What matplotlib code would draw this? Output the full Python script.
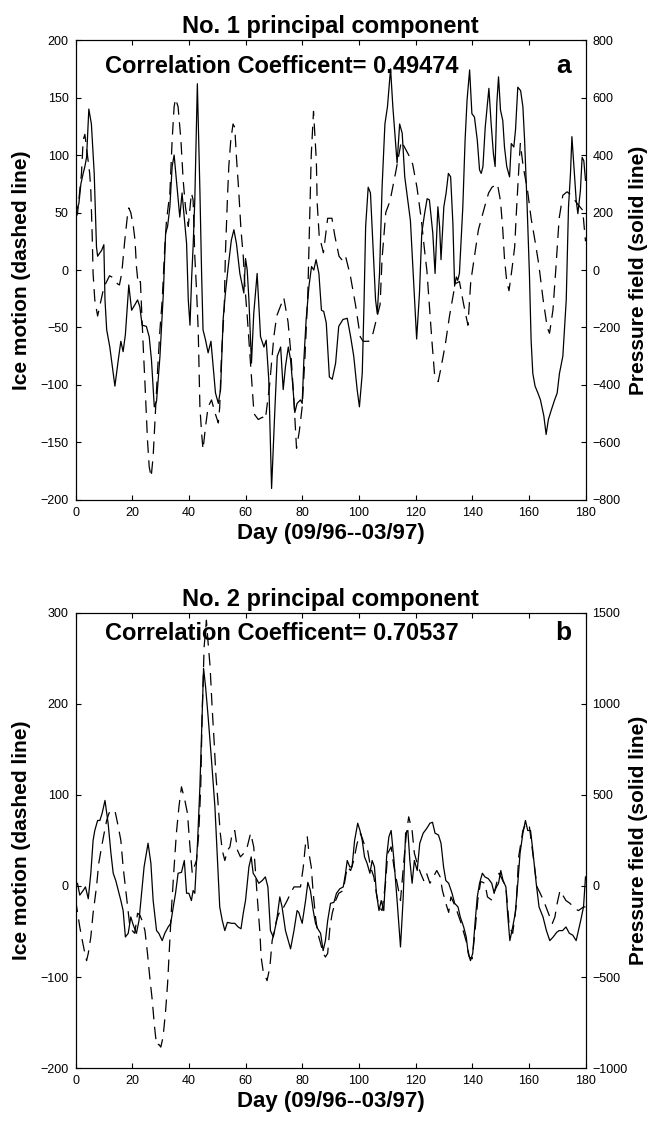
"""Ice motion vs pressure field principal components (two stacked panels)."""

import matplotlib

matplotlib.use("Agg")
import matplotlib.pyplot as plt
import numpy as np

plt.rcParams.update(
    {
        "font.family": ["Liberation Sans", "DejaVu Sans"],
        "font.size": 9,
        "axes.linewidth": 0.8,
        "xtick.direction": "in",
        "ytick.direction": "in",
        "xtick.major.size": 3.5,
        "ytick.major.size": 3.5,
        "xtick.major.width": 0.8,
        "ytick.major.width": 0.8,
    }
)

# ------------------------------------------------------------------
# Panel a: No. 1 principal component
# ------------------------------------------------------------------
pc1_ice_day = [0, 0.7, 2.1, 2.7, 3.3, 4.2, 5, 5.4, 5.9, 6.2, 6.8, 7.8, 10, 12, 13.5,
               14.8, 15.5, 16.3, 17.4, 18.4, 18.8, 19.5, 20.4, 21, 21.5, 22.1, 22.9,
               23.9, 24.5, 25.4, 26, 26.7, 27.4, 28, 28.9, 29.8, 30.6, 31.5, 32.1,
               33.3, 34.1, 34.8, 35.3, 36.2, 37.2, 38, 38.8, 39.8, 40.9, 41.5, 42.1,
               42.7, 43.3, 43.9, 44.5, 45, 45.9, 46.8, 48, 49.2, 50.4, 50.9, 51.5,
               52.5, 52.9, 53.6, 54.1, 54.8, 55.6, 56.2, 56.8, 57.6, 58.4, 59.2,
               59.8, 60.6, 62, 63, 64.5, 66, 67, 68.5, 70, 71, 73.5, 75, 76, 77, 78,
               79, 80, 81, 82, 82.6, 83.2, 84, 85, 85.3, 86, 87.5, 89, 90.5, 91.5,
               93, 94.3, 95.3, 97, 98.8, 100.5, 101.5, 103.5, 105, 107.5, 108.2,
               109.5, 111, 113, 115, 117.6, 119, 120.5, 122, 123.5, 124, 125, 125.8,
               126.7, 128, 129, 130.5, 132, 134, 135.5, 137, 138.5, 139.5, 141,
               142.2, 144.4, 145.8, 147, 148.9, 150, 150.8, 151.4, 152.2, 153, 154,
               155, 155.6, 156.5, 157, 158, 159.5, 160.8, 162.2, 163.5, 165, 166.5,
               167.3, 168.5, 169.5, 170.7, 172, 173.5, 175, 177, 179, 180]
pc1_ice = [45, 49, 84, 113, 118, 100, 84, 69, 29, -3, -26, -40, -15, -5, -7,
           -12, -13, -3, 26, 49, 54, 50, 38, 26, 3, -12, -10,
           -67, -98, -148, -171, -180, -162, -133, -90, -52, -26, 20, 43,
           67, 113, 142, 149, 142, 113, 78, 55, 38, 67, 61, 12,
           -17, -52, -119, -142, -156, -136, -119, -113, -124, -133, -119, -75,
           -32, 14, 61, 90, 113, 127, 124, 98, 69, 35, 12,
           -15, -40, -90, -125, -130, -128, -130, -100, -58, -40, -24, -45, -72, -110, -155,
           -140, -119, -75, -20, 40, 100, 138, 95, 58, 30, 15, 45, 45, 30,
           12, 8, 12, -5, -30, -58, -62, -62, -55, -30, 10,
           50, 60, 85, 112, 100, 92, 72, 45, 10, 0, -35, -62,
           -90, -97, -85, -65, -40, -12, -10, -30, -48, -10, 15,
           35, 55, 67, 72, 75, 60, 35, 10, -10, -18, 0,
           20, 50, 90, 110, 90, 70, 45, 25, 5, -25, -50,
           -55, -35, 0, 45, 65, 68, 65, 58, 52, 25]

pc1_press_day = [0, 1.2, 1.9, 2.7, 3.3, 3.9, 4.7, 5.6, 6.6, 7.4, 7.8, 8.6, 9.2, 10, 10.4,
                 11, 12.1, 13.9, 15.1, 16, 16.8, 17.6, 18.8, 19.8, 21, 21.9, 22.7, 23.5,
                 25, 26, 26.8, 27.8, 28.6, 29.8, 31, 31.8, 32.5, 33.3, 34.1, 34.8, 35.6,
                 36.8, 37.6, 38.6, 39.2, 39.8, 40.4, 41, 41.5, 42.1, 43, 43.9, 44.5, 45,
                 45.9, 46.8, 47.8, 48.6, 49.4, 50.4, 51.2, 52.1, 52.9, 53.9, 55, 55.9,
                 56.8, 58, 59.4, 60, 60.6, 61.2, 62.1, 62.9, 64.1, 65.3, 66.5, 67.3,
                 68.2, 69.2, 70.4, 71.2, 72.4, 73.3, 74.1, 75.1, 75.9, 76.7, 77.4, 78.2,
                 79.4, 80, 80.6, 81.4, 82.4, 83.3, 84.1, 84.9, 85.9, 86.8, 87.6, 88.5,
                 89.6, 90.6, 91.8, 92.9, 94.4, 95.9, 97.1, 98.2, 99.4, 100.2, 101.2,
                 101.8, 102.4, 103.3, 104.1, 104.9, 105.9, 106.5, 107.3, 108.2, 109.2,
                 110.1, 111.2, 112, 112.9, 113.5, 114.4, 115.3, 116.2, 117.4, 118.2,
                 119.2, 120.4, 121.4, 122.2, 123.2, 124.1, 124.9, 126.1, 126.9, 127.9,
                 128.5, 129, 130, 130.8, 131.6, 132.4, 133.2, 133.8, 134.4, 134.9, 135.5,
                 136.7, 137.5, 138.2, 139.1, 139.9, 140.8, 141.8, 142.6, 143.2, 143.8,
                 144.6, 145.3, 145.9, 146.7, 147.5, 148.1, 148.7, 149.3, 150, 150.8,
                 151.4, 152.2, 153.2, 153.8, 154.7, 155.3, 156.1, 157.1, 157.9, 158.5,
                 159.4, 160.2, 160.8, 161.4, 162.2, 163.2, 164.1, 165.3, 166.1, 166.9,
                 167.9, 169.1, 170, 170.8, 172, 173.2, 174, 174.7, 175.2, 175.9, 176.7,
                 177.3, 178.2, 178.8, 179.4, 180]
pc1_press = [196, 232, 300, 336, 360, 392, 560, 508, 336, 80, 48, 60, 68, 88, -104,
             -208, -268, -404, -312, -248, -284, -224, -52, -140, -120, -104, -128, -192,
             -196, -232, -312, -476, -456, -300, -80, 128, 152, 220, 360, 400, 312,
             184, 268, 160, 92, -104, -192, -24, 80, 244, 648, 276, -12, -208,
             -244, -288, -248, -336, -428, -464, -416, -172, -80, 12, 104, 140,
             92, -12, -80, 40, 0, -104, -324, -152, -12, -232, -268, -244,
             -380, -760, -476, -300, -268, -416, -336, -268, -312, -404, -496, -464,
             -452, -464, -312, -172, -56, 12, 0, 36, -12, -140, -144, -184,
             -372, -380, -324, -196, -172, -168, -232, -300, -416, -476, -360,
             -128, 152, 288, 268, 104, -104, -152, -12, 288, 508,
             568, 700, 568, 452, 372, 508, 476, 324, 232, 172,
             -12, -240, -80, 128, 196, 248, 244, 128, -12, 220,
             152, 36, 220, 268, 336, 324, 160, -56, -24, -36, -12,
             220, 452, 592, 696, 544, 532, 452, 348, 336, 360,
             496, 568, 632, 508, 404, 360, 580, 672, 556, 520,
             428, 360, 324, 440, 428, 488, 636, 624, 568, 452,
             220, -12, -244, -360, -404, -428, -452, -508, -572, -520,
             -488, -452, -428, -360, -300, -104, 220, 336, 464, 360, 244,
             196, 276, 392, 380, 312]

# ------------------------------------------------------------------
# Panel b: No. 2 principal component
# ------------------------------------------------------------------
pc2_ice_day = [0, 0.5, 1.5, 2.4, 3.3, 3.9, 4.5, 5.4, 6.2, 7.4, 8.2, 9.2, 10.1, 11, 11.8,
               12.9, 13.9, 15.1, 16, 16.8, 17.6, 18.4, 19.2, 20, 20.9, 21.9, 22.7, 23.5,
               24.5, 25.4, 26.2, 27.1, 27.8, 28.6, 29.4, 30.1, 30.9, 31.8, 32.5, 33.3,
               33.9, 34.8, 35.6, 36.5, 37.4, 38.6, 39.5, 40.4, 41.2, 41.9, 42.7, 43.5,
               44.2, 44.7, 45.4, 46.2, 46.8, 47.5, 48.2, 48.9, 49.5, 50.4, 51.1, 51.8,
               52.7, 53.6, 54.5, 55.3, 56.2, 57.2, 58.2, 59.4, 60.6, 61.8, 62.9, 63.9,
               64.4, 65.1, 65.5, 66.2, 67.6, 68.6, 69.4, 70.2, 70.9, 71.8, 72.6, 73.5,
               74.7, 75.9, 77.1, 78.2, 79.4, 80.4, 81.2, 81.8, 82.4, 83.2, 83.9, 84.7,
               85.5, 86.5, 87.4, 88.2, 89, 89.8, 90.6, 91.8, 92.9, 94.5, 95.9, 97.1,
               98.2, 99.4, 100.6, 101.8, 102.9, 104.1, 105.3, 106.2, 107.1, 108.2,
               109.4, 110.2, 111.4, 112.4, 113.5, 114.7, 115.9, 116.8, 117.6, 118.8,
               119.6, 120.6, 121.8, 122.9, 123.9, 125.1, 127.5, 128.7, 129.5, 130.7,
               131.7, 132.5, 134, 136, 138, 139, 140, 141, 142, 143, 144.5, 145.4,
               147.1, 149.5, 151.9, 153.1, 154.3, 155.5, 156.4, 157.9, 159, 160.2,
               161.4, 162.9, 164, 165.2, 167.4, 168.3, 169.2, 170, 171, 173.1, 174.5,
               176.3, 177.5, 179.3, 180]
pc2_ice = [-15, -25, -45, -60, -74, -82, -74, -56, -30, -1, 25, 43, 58, 72, 80,
           83, 83, 65, 50, 21, -1, -23, -45, -49, -52, -30, -32, -38,
           -49, -74, -100, -126, -152, -175, -174, -177, -166, -137, -107, -60,
           -23, 21, 58, 87, 109, 94, 80, 43, 14, 21, 28, 58,
           109, 190, 263, 292, 267, 241, 197, 160, 124, 87, 58, 39,
           28, 39, 43, 58, 61, 39, 32, 36, 43, 58, 43, -1,
           -23, -52, -78, -93, -104, -89, -60, -49, -38, -30, -30, -23,
           -16, -8, -1, -1, -1, 21, 47, 54, 36, 21, -8, -34,
           -52, -63, -74, -78, -74, -45, -30, -16, -8, -5, 21, 17,
           28, 47, 58, 47, 43, 21, 10, -8, -23, -27,
           3, 36, 43, 21, 3, -16, 28, 58, 76, 61,
           36, 25, 14, 6, 14, 3, 17, 10, -5, -19,
           -29, -12, -22, -40, -62, -78, -80, -50, -15, 5, 3, -12,
           -16, 14, -1, -45, -52, -23, 32, 61, 69, 65,
           36, -1, -8, -16, -34, -41, -34, -19, -5, -16, -19,
           -25, -27, -23, -23]

pc2_press_day = [0, 0.7, 1.5, 2.7, 3.5, 4.5, 5.4, 6.2, 6.8, 7.8, 8.6, 9.4, 10.4, 11, 11.5,
                 12.5, 13.3, 14.2, 15.1, 16, 16.8, 17.6, 18.6, 19.5, 20.4, 21.5, 22.4,
                 23.3, 24.2, 25, 25.6, 26.6, 27.4, 28.6, 29.4, 30.6, 31.5, 32.7, 33.6,
                 34.5, 35.3, 36.2, 37.4, 38.4, 39.2, 40, 40.9, 41.5, 42.1, 43.1, 43.9,
                 44.5, 45.2, 45.9, 46.8, 48, 49.2, 50.1, 50.9, 51.8, 52.7, 53.6, 55.1,
                 56.2, 57.4, 58.4, 59.2, 60, 61.2, 62, 62.7, 63.5, 64.7, 65.9, 67, 67.9,
                 68.8, 69.8, 71, 72.1, 72.9, 74.1, 75.9, 77.1, 78.2, 78.8, 80, 81.2, 82,
                 82.9, 83.9, 84.7, 85.5, 86.5, 87.4, 88.2, 89, 90, 91.2, 92.1, 93.3,
                 94.5, 95.3, 95.9, 96.8, 97.6, 98.5, 99.6, 100.4, 101.2, 102, 102.9,
                 103.9, 104.7, 105.5, 106.2, 107.1, 107.9, 108.8, 109.8, 110.6, 111.4,
                 112.4, 113.5, 114.7, 115.6, 116.5, 117.3, 118, 118.8, 119.6, 120.6,
                 121.5, 122.7, 123.9, 125.1, 126, 126.9, 128.1, 129, 129.9, 130.7,
                 131.7, 132.9, 133.8, 135, 135.8, 137, 137.9, 138.6, 139.4, 140.2, 141,
                 141.8, 142.6, 143.6, 144.5, 145.7, 146.9, 147.7, 148.6, 149.3, 150.1,
                 150.9, 151.9, 152.5, 153.3, 154.3, 155.2, 156.1, 156.9, 157.9, 158.8,
                 159.6, 160.6, 161.4, 162.6, 163.6, 165, 166.2, 167.4, 168.6, 169.8,
                 170.7, 171.9, 173.1, 174.3, 175.5, 176.7, 177.5, 178.3, 179.3, 180]
pc2_press = [5, 15, -50, -25, -5, -70, 70, 250, 305, 360, 360, 400, 470, 400, 345,
             180, 70, 30, -25, -80, -135, -280, -260, -170, -215, -260, -190,
             -40, 105, 180, 235, 125, -80, -245, -260, -300, -260, -225, -205,
             -115, -40, 70, 75, 140, -40, -40, -80, -25, -40, 250, 545,
             840, 1195, 1095, 930, 690, 435, 140, -115, -190, -245, -200, -205,
             -205, -225, -235, -150, -80, 105, 160, 70, 50, 15, 30, 50, -5,
             -245, -280, -190, -60, -115, -245, -345, -245, -135, -145, -205, -80, 20,
             -25, -135, -205, -235, -260, -355, -300, -190, -95, -90, -40, -15,
             -5, 70, 140, 105, 105, 250, 345, 305, 250, 160, 125,
             70, 140, 105, -40, -135, -80, -135, 160, 270, 305,
             140, -80, -335, -80, 290, 305, 140, 15, 140, 85,
             235, 290, 315, 345, 350, 290, 280, 235, 105, 30,
             15, -40, -95, -115, -170, -225, -280, -370, -410, -370, -205,
             -60, 15, 70, 50, 40, 15, -35, -5, 15, 85,
             30, -5, -150, -300, -225, -150, 15, 180, 290, 360,
             305, 305, 195, 15, -115, -170, -245, -300, -280, -255,
             -245, -245, -225, -260, -270, -300, -245, -190, -115, 50]

TITLES = ["No. 1 principal component", "No. 2 principal component"]
CORR_TEXT = ["Correlation Coefficent= 0.49474", "Correlation Coefficent= 0.70537"]
PANEL_TAGS = ["a", "b"]
ICE_LIMS = [(-200, 200), (-200, 300)]
ICE_TICKS = [np.arange(-200, 201, 50), np.arange(-200, 301, 100)]
PRESS_LIMS = [(-800, 800), (-1000, 1500)]
PRESS_TICKS = [np.arange(-800, 801, 200), np.arange(-1000, 1501, 500)]
DAY_TICKS = np.arange(0, 181, 20)

DASH = (0, (10, 6))
BOLD = dict(fontweight="bold")

fig = plt.figure(figsize=(6.55, 11.22), dpi=100)
positions = [[0.1153, 0.5544, 0.7786, 0.4099], [0.1153, 0.0481, 0.7786, 0.4056]]
series = [
    (pc1_ice_day, pc1_ice, pc1_press_day, pc1_press),
    (pc2_ice_day, pc2_ice, pc2_press_day, pc2_press),
]
text_y = [0.928, 0.94]

for i, pos in enumerate(positions):
    ice_day, ice, press_day, press = series[i]
    ax = fig.add_axes(pos)
    axr = ax.twinx()

    ax.plot(ice_day, ice, color="black", linewidth=0.9, linestyle=DASH)
    axr.plot(press_day, press, color="black", linewidth=0.9)

    ax.set_xlim(0, 180)
    ax.set_xticks(DAY_TICKS)
    ax.set_ylim(*ICE_LIMS[i])
    ax.set_yticks(ICE_TICKS[i])
    axr.set_ylim(*PRESS_LIMS[i])
    axr.set_yticks(PRESS_TICKS[i])

    ax.tick_params(axis="x", top=True, pad=5, labelsize=9)
    ax.tick_params(axis="y", pad=5, labelsize=9)
    axr.tick_params(axis="y", pad=5, labelsize=9)

    ax.set_title(TITLES[i], fontsize=17, pad=5, **BOLD)
    ax.set_xlabel("Day (09/96--03/97)", fontsize=16, labelpad=3, **BOLD)
    ax.set_ylabel("Ice motion (dashed line)", fontsize=15, **BOLD)
    axr.set_ylabel("Pressure field (solid line)", fontsize=15, rotation=90, **BOLD)
    # label anchors: right edge of left label, left edge of right label
    ax.yaxis.set_label_coords(-0.087, 0.5)
    axr.yaxis.set_label_coords(1.086, 0.5)

    ax.text(0.057, text_y[i], CORR_TEXT[i], transform=ax.transAxes,
            fontsize=17, va="baseline", ha="left", **BOLD)
    ax.text(0.972, text_y[i], PANEL_TAGS[i], transform=ax.transAxes,
            fontsize=19, va="baseline", ha="right", **BOLD)

fig.savefig("out.png", dpi=100)
